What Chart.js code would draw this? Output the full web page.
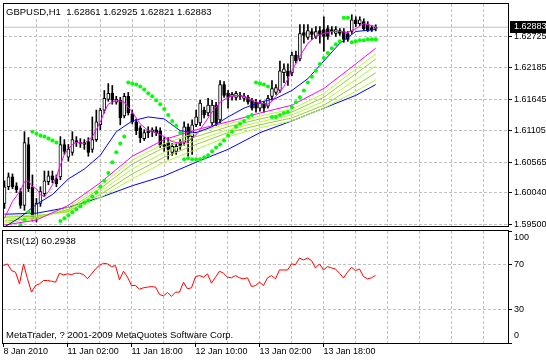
<!DOCTYPE html>
<html><head><meta charset="utf-8">
<script src="https://cdn.jsdelivr.net/npm/chart.js@4.4.1/dist/chart.umd.min.js"></script>
<style>
html,body{margin:0;padding:0;background:#fff;}
#wrap{position:relative;width:546px;height:360px;overflow:hidden;background:#fff;}
#c1{position:absolute;left:0;top:0;}
#c2{position:absolute;left:0;top:230px;}
</style></head><body>
<div id="wrap">
<canvas id="c1" width="546" height="230"></canvas>
<canvas id="c2" width="546" height="130"></canvas>
</div>
<script>
// ---------- DATA ----------
const symbol = 'GBPUSD,H1';
const xLabelBars = [0, 16, 32, 48, 64, 80];
const xLabelTexts = ['8 Jan 2010', '11 Jan 02:00', '11 Jan 18:00', '12 Jan 10:00', '13 Jan 02:00', '13 Jan 18:00'];
const priceTicks = [1.62725, 1.62185, 1.61645, 1.61105, 1.60565, 1.60040, 1.59500];
const rsiTicks = [100, 70, 30, 0];

const openP = [
1.59857,1.60143,1.60312,1.60160,1.60059,1.59823,1.60869,1.60143,1.59603,1.59857,
1.60025,1.60228,1.60329,1.60278,1.60312,1.60869,1.60650,1.60734,1.60937,1.60903,
1.60903,1.60920,1.60785,1.60953,1.61207,1.61460,1.61645,1.61747,1.61595,1.61628,
1.61358,1.61696,1.61392,1.61257,1.61156,1.60970,1.61105,1.61088,1.61122,1.61105,
1.60869,1.60903,1.60734,1.60751,1.60903,1.60903,1.61173,1.61004,1.61207,1.61240,
1.61460,1.61409,1.61240,1.61544,1.61291,1.61898,1.61747,1.61696,1.61679,1.61713,
1.61662,1.61679,1.61628,1.61595,1.61493,1.61578,1.61527,1.61696,1.61763,1.61797,
1.62101,1.62135,1.62101,1.62405,1.62337,1.62793,1.62708,1.62810,1.62725,1.62827,
1.62843,1.62860,1.62843,1.62776,1.62827,1.62810,1.62776,1.62810,1.63012,1.62945,
1.62979,1.62928,1.62877,1.62861];
const highP = [
1.60245,1.60380,1.60363,1.60211,1.60110,1.61088,1.60987,1.60346,1.59941,1.60143,
1.60413,1.60413,1.60413,1.60346,1.61004,1.60953,1.60869,1.61088,1.61004,1.60970,
1.60953,1.60987,1.61342,1.61460,1.61493,1.61797,1.61915,1.61882,1.61696,1.61679,
1.61747,1.61763,1.61460,1.61308,1.61190,1.61122,1.61173,1.61156,1.61173,1.61156,
1.60987,1.60987,1.60886,1.60886,1.60953,1.61257,1.61223,1.61291,1.61460,1.61628,
1.61510,1.61662,1.61628,1.61595,1.61966,1.61949,1.61797,1.61763,1.61780,1.61763,
1.61747,1.61713,1.61662,1.61645,1.61628,1.61612,1.61713,1.61966,1.61898,1.62303,
1.62253,1.62253,1.62455,1.62472,1.62928,1.62928,1.62928,1.62860,1.62894,1.62894,
1.63063,1.62911,1.62894,1.62894,1.62860,1.62860,1.62810,1.63097,1.63063,1.63063,
1.63029,1.62979,1.62911,1.62925];
const lowP = [
1.59772,1.60093,1.60110,1.60042,1.59772,1.59738,1.60059,1.59553,1.59536,1.59806,
1.59975,1.60177,1.60211,1.60143,1.60262,1.60700,1.60582,1.60683,1.60835,1.60818,
1.60785,1.60667,1.60734,1.60920,1.61122,1.61409,1.61612,1.61561,1.61561,1.61207,
1.61325,1.61375,1.61223,1.61038,1.60903,1.60937,1.60987,1.61004,1.61021,1.60818,
1.60751,1.60616,1.60683,1.60700,1.60785,1.60852,1.60667,1.60700,1.61173,1.61190,
1.61325,1.61358,1.61190,1.61190,1.61240,1.61679,1.61493,1.61628,1.61628,1.61645,
1.61612,1.61561,1.61460,1.61426,1.61443,1.61426,1.61493,1.61628,1.61730,1.61763,
1.61932,1.61882,1.62050,1.62270,1.62303,1.62607,1.62675,1.62675,1.62692,1.62607,
1.62472,1.62675,1.62759,1.62725,1.62742,1.62624,1.62641,1.62776,1.62894,1.62911,
1.62827,1.62810,1.62810,1.62821];
const closeP = [
1.60143,1.60312,1.60143,1.60093,1.59823,1.60903,1.60110,1.59603,1.59857,1.60059,
1.60245,1.60329,1.60262,1.60194,1.60869,1.60751,1.60785,1.60953,1.60903,1.60886,
1.60869,1.60734,1.60953,1.61257,1.61460,1.61662,1.61747,1.61628,1.61645,1.61325,
1.61696,1.61409,1.61257,1.61105,1.60987,1.61072,1.61072,1.61122,1.61072,1.60852,
1.60835,1.60785,1.60835,1.60835,1.60835,1.61173,1.61004,1.61207,1.61342,1.61578,
1.61375,1.61544,1.61544,1.61240,1.61898,1.61713,1.61679,1.61730,1.61747,1.61696,
1.61696,1.61595,1.61493,1.61493,1.61578,1.61493,1.61662,1.61831,1.61848,1.62135,
1.62168,1.62050,1.62405,1.62303,1.62776,1.62742,1.62827,1.62759,1.62810,1.62759,
1.62725,1.62725,1.62810,1.62843,1.62776,1.62675,1.62675,1.63012,1.62945,1.63012,
1.62860,1.62843,1.62843,1.62883];

const sarValues = [
null,null,null,null,1.59485,1.59570,1.59705,
1.61088,1.61055,1.61021,1.61004,1.60970,1.60937,1.60903,
1.59553,1.59603,1.59654,1.59705,1.59755,1.59806,1.59874,1.59907,1.59975,1.60042,1.60143,1.60245,1.60380,1.60565,1.60734,1.60886,1.61004,
1.61932,1.61915,1.61898,1.61865,1.61814,1.61747,1.61696,1.61628,1.61561,1.61477,1.61375,1.61274,1.61190,1.61072,
1.60616,1.60633,1.60616,1.60616,1.60616,1.60650,1.60683,1.60751,1.60818,1.60869,1.60937,1.61021,1.61088,1.61173,1.61223,1.61274,1.61342,1.61375,
1.61932,1.61915,1.61898,1.61865,
1.61342,1.61342,1.61375,1.61409,1.61426,1.61510,1.61595,1.61679,1.61797,1.61932,1.62034,1.62135,1.62253,1.62354,1.62439,1.62523,1.62591,1.62641,
1.63046,1.63046,
1.62624,1.62641,1.62658,1.62658,1.62675,1.62675,1.62675];

const maFastBars = [0,2,4,5,6,7,8,9,10,11,12,13,14,15,16,17,18,20,22,23,24,25,26,28,30,32,34,36,38,40,42,44,46,48,50,52,54,56,58,60,62,64,66,67,68,70,72,74,76,78,80,82,84,86,88,90,92,93];
const maFast = [1.59604,1.59890,1.60076,1.60228,1.60245,1.60143,1.60110,1.60008,1.59975,1.60059,
1.60177,1.60312,1.60515,1.60700,1.60785,1.60869,1.60903,1.60886,1.61004,1.61122,
1.61257,1.61426,1.61561,1.61628,1.61595,1.61426,1.61223,1.61105,1.61072,1.61004,
1.60920,1.60886,1.60920,1.61038,1.61223,1.61426,1.61595,1.61679,1.61713,1.61696,
1.61628,1.61578,1.61561,1.61612,1.61696,1.61865,1.62135,1.62388,1.62607,1.62725,
1.62776,1.62810,1.62810,1.62793,1.62860,1.62945,1.62911,1.62894];

const maMidBars = [0,4,8,12,16,20,24,28,32,36,40,44,48,52,56,60,64,68,72,76,80,84,88,93];
const maMid = [1.59452,1.59620,1.59840,1.60008,1.60278,1.60447,1.60683,1.61088,1.61274,1.61342,1.61308,1.61105,
1.61072,1.61173,1.61342,1.61493,1.61595,1.61662,1.61797,1.62000,1.62303,1.62607,1.62810,1.62843];

const ribbonBars = [0,8,16,24,32,40,48,56,64,72,80,88,93];
const maSlowMagenta = [1.59485,1.59570,1.59823,1.60211,1.60667,1.60953,1.61122,1.61257,1.61409,1.61544,1.61831,1.62253,1.62523];
const maGreen1 = [1.59519,1.59587,1.59789,1.60160,1.60599,1.60886,1.61072,1.61223,1.61358,1.61477,1.61747,1.62168,1.62422];
const maGreen2 = [1.59553,1.59604,1.59755,1.60110,1.60532,1.60818,1.61004,1.61173,1.61308,1.61426,1.61679,1.62084,1.62337];
const maGreen3 = [1.59587,1.59620,1.59738,1.60059,1.60447,1.60734,1.60937,1.61122,1.61257,1.61375,1.61612,1.61983,1.62219];
const maGreen4 = [1.59620,1.59637,1.59722,1.60008,1.60363,1.60650,1.60869,1.61072,1.61207,1.61325,1.61544,1.61882,1.62101];
const maGreen5 = [1.59637,1.59654,1.59705,1.59958,1.60278,1.60565,1.60785,1.61004,1.61156,1.61274,1.61493,1.61780,1.61983];
const maSlowBlue = [1.59671,1.59688,1.59789,1.59958,1.60160,1.60329,1.60565,1.60785,1.61072,1.61274,1.61493,1.61713,1.61898];

const rsiValues = [
69.1,70.6,64.7,63.2,52.8,70.6,57.3,45.4,51.3,52.8,
55.8,55.8,55.2,54.3,62.3,60.8,61.7,61.1,62.3,62.3,
61.1,57.3,61.7,66.1,69.4,71.2,70.6,68.2,69.1,56.4,
64.1,58.8,51.3,51.3,48.1,49.3,49.9,50.4,49.9,43.3,
42.1,45.1,41.6,45.4,45.4,54.3,48.4,49.3,59.3,60.2,
58.8,61.7,53.4,58.8,64.1,62.3,58.8,58.2,60.2,58.2,
57.3,58.2,50.4,51.3,54.3,51.3,58.2,60.2,57.3,65.2,
65.2,65.2,70.6,70.0,75.9,74.1,75.9,73.6,67.0,70.6,
65.2,68.2,67.0,66.1,62.3,58.2,63.2,67.6,64.7,66.1,
59.3,57.3,58.2,60.2938];

// ---------- HELPERS ----------
const FONT = '"Liberation Sans", Arial, sans-serif';
Chart.defaults.font.family = FONT;
Chart.defaults.font.size = 9;
Chart.defaults.color = '#000';

const X_MIN = -0.125, X_MAX = 126.125;
const Y_MIN = 1.594685, Y_MAX = 1.63282;
const GRID = '#c0c0c0';
const CLEAR = 'rgba(0,0,0,0)';
const gridBars = [];
for (let v = 0; v <= 120; v += 8) gridBars.push(v);

const n = closeP.length;
const idx = closeP.map((_, i) => i);
const last = n - 1;
const lastClose = closeP[last];
const pts = (xs, ys) => xs.map((x, k) => ({x: x, y: ys[k]}));
const lineDs = (label, xs, ys, color, order) => ({
  type: 'line', label, data: pts(xs, ys), borderColor: color, borderWidth: 1,
  pointRadius: 0, tension: 0, order
});
const noPadV = s => { s.paddingTop = 0; s.paddingBottom = 0; };
const noPadH = s => { s.paddingLeft = 0; s.paddingRight = 0; };

const titleText = symbol + '  ' + [openP[last], highP[last], lowP[last], closeP[last]].map(v => v.toFixed(5)).join(' ');

const mainDecor = {
  id: 'mainDecor',
  afterDraw(chart) {
    const {ctx, chartArea: a} = chart;
    ctx.save();
    ctx.strokeStyle = '#000'; ctx.lineWidth = 1;
    ctx.strokeRect(a.left - 0.5, a.top - 0.5, a.right - a.left + 1, a.bottom - a.top + 1);
    ctx.font = '9.5px ' + FONT;
    const w = ctx.measureText(titleText).width;
    ctx.fillStyle = '#fff';
    ctx.fillRect(a.left, a.top, w + 5, 15);
    ctx.fillStyle = '#000';
    ctx.textBaseline = 'alphabetic';
    ctx.textAlign = 'left';
    ctx.fillText(titleText, 6, 15);
    const y = Math.round(chart.scales.y.getPixelForValue(lastClose));
    ctx.fillStyle = '#000';
    ctx.fillRect(a.right + 2, y - 6, chart.width - a.right - 2, 12);
    ctx.fillStyle = '#fff';
    ctx.font = '9px ' + FONT;
    ctx.textBaseline = 'middle';
    ctx.fillText(lastClose.toFixed(5), a.right + 6, y);
    ctx.restore();
  }
};

const rsiDecor = {
  id: 'rsiDecor',
  afterDraw(chart) {
    const {ctx, chartArea: a} = chart;
    ctx.save();
    ctx.strokeStyle = '#000'; ctx.lineWidth = 1;
    ctx.strokeRect(a.left - 0.5, a.top - 0.5, a.right - a.left + 1, a.bottom - a.top + 1);
    ctx.fillStyle = '#000';
    ctx.font = '9.5px ' + FONT;
    ctx.textBaseline = 'alphabetic';
    ctx.textAlign = 'left';
    ctx.fillText('RSI(12) ' + rsiValues[last].toFixed(4), 6, 14);
    ctx.fillText('MetaTrader, ? 2001-2009 MetaQuotes Software Corp.', 6, 108);
    ctx.restore();
  }
};

// ---------- MAIN CHART ----------
new Chart(document.getElementById('c1'), {
  type: 'bar',
  data: {
    datasets: [
      { type: 'line', label: 'Parabolic SAR', data: idx.filter(i => sarValues[i] !== null).map(i => ({x: i, y: sarValues[i]})),
        showLine: false, pointRadius: 2, pointStyle: 'circle', pointBackgroundColor: '#00ff00', pointBorderWidth: 0,
        borderColor: '#00ff00', order: 0 },
      lineDs('MA fast', maFastBars, maFast, '#ff00ff', 1),
      lineDs('MA mid', maMidBars, maMid, '#0000ff', 2),
      lineDs('MA slow magenta', ribbonBars, maSlowMagenta, '#ff00ff', 3),
      lineDs('MA green 1', ribbonBars, maGreen1, '#adff2f', 4),
      lineDs('MA green 2', ribbonBars, maGreen2, '#9acd32', 5),
      lineDs('MA green 3', ribbonBars, maGreen3, '#adff2f', 6),
      lineDs('MA green 4', ribbonBars, maGreen4, '#9acd32', 7),
      lineDs('MA green 5', ribbonBars, maGreen5, '#adff2f', 8),
      lineDs('MA slow blue', ribbonBars, maSlowBlue, '#0000ff', 9),
      { type: 'bar', label: 'Body', data: idx.map(i => ({x: i, y: [openP[i], closeP[i]]})),
        backgroundColor: idx.map(i => closeP[i] >= openP[i] ? '#ffffff' : '#000000'),
        borderColor: '#000', borderWidth: 1, borderSkipped: false, barThickness: 3, grouped: false, order: 10 },
      { type: 'bar', label: 'Wick', data: idx.map(i => ({x: i, y: [lowP[i], highP[i]]})),
        backgroundColor: '#000', borderWidth: 0, barThickness: 1, grouped: false, order: 11 },
      { type: 'line', label: 'Bid', data: [{x: X_MIN, y: lastClose}, {x: X_MAX, y: lastClose}],
        borderColor: '#c0c0c0', borderWidth: 1, pointRadius: 0, order: 12 }
    ]
  },
  options: {
    responsive: false, animation: false, events: [],
    layout: {padding: {left: 3, top: 2, right: 0, bottom: 2}},
    plugins: {legend: {display: false}, tooltip: {enabled: false}},
    scales: {
      x: {
        type: 'linear', min: X_MIN, max: X_MAX, offset: false, position: 'bottom',
        grid: {offset: false, color: c => c.tick && c.tick.value === 0 ? CLEAR : GRID, drawTicks: false},
        border: {display: false, dash: [3, 2]},
        ticks: {display: false},
        afterBuildTicks: s => { s.ticks = gridBars.map(v => ({value: v})); },
        afterFit: s => { s.height = 0; noPadH(s); }
      },
      y: {
        type: 'linear', position: 'right', min: Y_MIN, max: Y_MAX,
        grid: {color: GRID, tickLength: 4, tickColor: '#000'},
        border: {display: false, dash: [3, 2]},
        ticks: {padding: 2, color: '#000', font: {size: 9}, callback: v => Number(v).toFixed(5)},
        afterBuildTicks: s => { s.ticks = priceTicks.map(v => ({value: v})); },
        afterFit: s => { s.width = 38; noPadV(s); }
      }
    }
  },
  plugins: [mainDecor]
});

// ---------- RSI CHART ----------
new Chart(document.getElementById('c2'), {
  type: 'line',
  data: {
    datasets: [{ label: 'RSI(12)', data: rsiValues.map((v, i) => ({x: i, y: v})), borderColor: '#ff0000',
      borderWidth: 1, pointRadius: 0, tension: 0 }]
  },
  options: {
    responsive: false, animation: false, events: [],
    layout: {padding: {left: 3, top: 1, right: 0, bottom: 0}},
    plugins: {legend: {display: false}, tooltip: {enabled: false}},
    scales: {
      x: {
        type: 'linear', min: X_MIN, max: X_MAX, offset: false, position: 'bottom',
        grid: {offset: false, color: c => c.tick && c.tick.value === 0 ? CLEAR : GRID, tickLength: 4,
          tickColor: c => c.tick && xLabelBars.includes(c.tick.value) ? '#000' : CLEAR},
        border: {display: false, dash: [3, 2]},
        ticks: {autoSkip: false, maxRotation: 0, minRotation: 0, align: 'start', padding: -1, color: '#000', font: {size: 9},
          callback: v => { const k = xLabelBars.indexOf(v); return k >= 0 ? xLabelTexts[k] : ''; }},
        afterBuildTicks: s => { s.ticks = gridBars.map(v => ({value: v})); },
        afterFit: s => { s.height = 17; noPadH(s); }
      },
      y: {
        type: 'linear', position: 'right', min: 0, max: 100,
        grid: {color: c => c.tick && (c.tick.value === 70 || c.tick.value === 30) ? GRID : CLEAR, tickLength: 4, tickColor: '#000'},
        border: {display: false, dash: [3, 2]},
        ticks: {padding: 2, color: '#000', font: {size: 9, lineHeight: '14px'},
          callback: v => v === 100 ? ['', '100'] : (v === 0 ? ['0', ''] : String(v))},
        afterBuildTicks: s => { s.ticks = rsiTicks.map(v => ({value: v})); },
        afterFit: s => { s.width = 38; noPadV(s); }
      }
    }
  },
  plugins: [rsiDecor]
});
</script>
</body></html>
